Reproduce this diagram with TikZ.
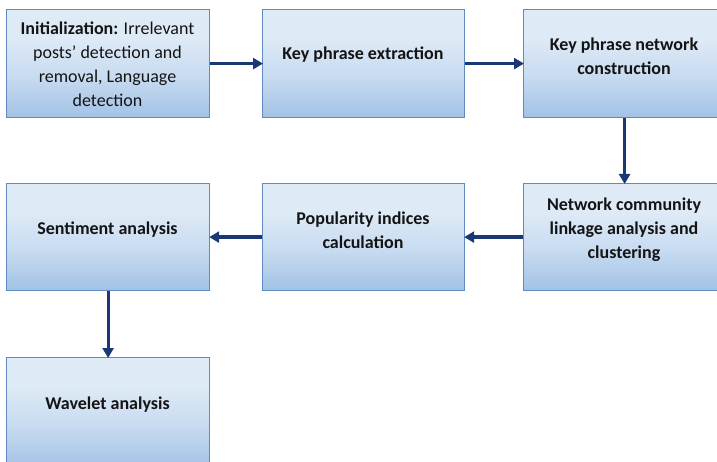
\documentclass[tikz,border=0pt]{standalone}
\usepackage{fontspec}
\setmainfont{Carlito}
\usetikzlibrary{arrows.meta}
\definecolor{boxtop}{HTML}{DEEAF6}
\definecolor{boxmid}{HTML}{C9DCF1}
\definecolor{boxbot}{HTML}{A2C2E6}
\definecolor{boxline}{HTML}{5F8BC0}
\definecolor{arrowc}{HTML}{1B3876}
\definecolor{txtc}{HTML}{141414}
\pgfdeclareverticalshading{boxshade}{100bp}{color(0bp)=(boxbot); color(25bp)=(boxbot); color(45bp)=(boxmid); color(62bp)=(boxtop); color(100bp)=(boxtop)}
\tikzset{
  box/.style={draw=boxline, line width=1.2pt, shading=boxshade, rectangle, anchor=north west, inner sep=0pt, minimum width=203pt},
  rowone/.style={minimum height=108pt},
  rowtwo/.style={minimum height=107pt},
  txt/.style={align=center, text=txtc, font=\bfseries\fontsize{18}{24}\selectfont, inner sep=0pt},
  flow/.style={draw=arrowc, line width=3.2pt, -{Triangle[length=10pt,width=11pt]}, shorten >=-1pt}
}
\begin{document}
\begin{tikzpicture}[x=1pt,y=-1pt]
\useasboundingbox (0,0) rectangle (717,462);
\node[box,rowone] (b1) at (6,9) {};
\node[box,rowone,minimum width=202pt] (b2) at (262,9) {};
\node[box,rowone,minimum width=202pt] (b3) at (523,9) {};
\node[box,rowtwo] (b4) at (6,183) {};
\node[box,rowtwo,minimum width=202pt] (b5) at (262,183) {};
\node[box,rowtwo,minimum width=202pt] (b6) at (523,183) {};
\node[box,minimum height=110pt] (b7) at (6,357) {};

\node[txt] (t1) at (107.5,64) {Initialization: \mdseries Irrelevant\\\mdseries posts’ detection and\\\mdseries removal, Language\\\mdseries detection};
\node[txt] (t2) at (363,55) {Key phrase extraction};
\node[txt] (t3) at (624,56) {Key phrase network\\construction};
\node[txt] (t4) at (107.5,230) {Sentiment analysis};
\node[txt] (t5) at (363,230) {Popularity indices\\calculation};
\node[txt] (t6) at (624,230) {Network community\\linkage analysis and\\clustering};
\node[txt] (t7) at (107.5,405) {Wavelet analysis};

\draw[flow] (b1.east) -- (b2.west);
\draw[flow] (b2.east) -- (b3.west);
\draw[flow] (b3.south) -- (b6.north);
\draw[flow] (b6.west) -- (b5.east);
\draw[flow] (b5.west) -- (b4.east);
\draw[flow] (b4.south) -- (b7.north);
\end{tikzpicture}
\end{document}
